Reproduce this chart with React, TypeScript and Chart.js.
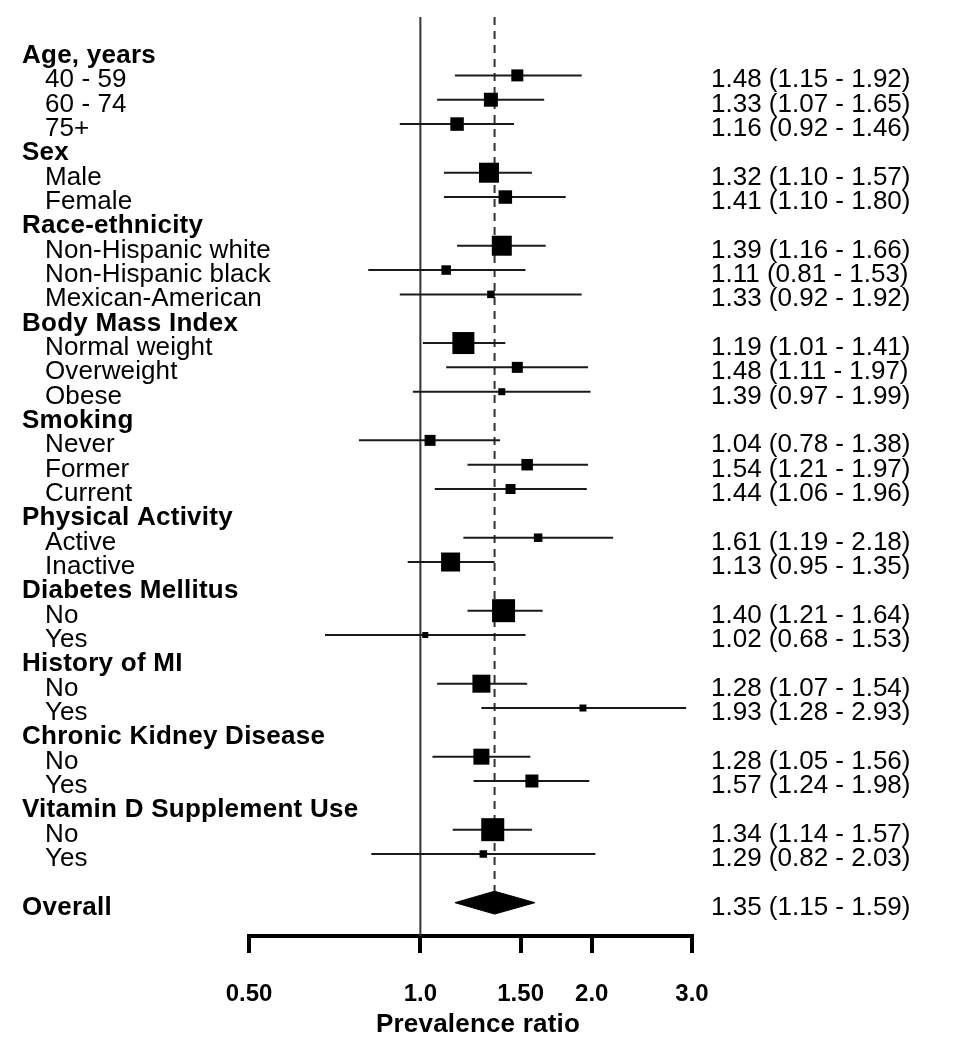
import { useEffect, useRef } from "react";
import { Chart, registerables } from "chart.js";

Chart.register(...registerables);

// ---- Data ----
const rowLabels = [
  "Age, years", "40 - 59", "60 - 74", "75+",
  "Sex", "Male", "Female",
  "Race-ethnicity", "Non-Hispanic white", "Non-Hispanic black", "Mexican-American",
  "Body Mass Index", "Normal weight", "Overweight", "Obese",
  "Smoking", "Never", "Former", "Current",
  "Physical Activity", "Active", "Inactive",
  "Diabetes Mellitus", "No", "Yes",
  "History of MI", "No", "Yes",
  "Chronic Kidney Disease", "No", "Yes",
  "Vitamin D Supplement Use", "No", "Yes",
  "",
  "Overall",
];
// h = group header, i = subgroup, b = blank, o = overall
const rowKinds = [
  "h", "i", "i", "i",
  "h", "i", "i",
  "h", "i", "i", "i",
  "h", "i", "i", "i",
  "h", "i", "i", "i",
  "h", "i", "i",
  "h", "i", "i",
  "h", "i", "i",
  "h", "i", "i",
  "h", "i", "i",
  "b",
  "o",
];
const estimates = [
  null, 1.48, 1.33, 1.16,
  null, 1.32, 1.41,
  null, 1.39, 1.11, 1.33,
  null, 1.19, 1.48, 1.39,
  null, 1.04, 1.54, 1.44,
  null, 1.61, 1.13,
  null, 1.40, 1.02,
  null, 1.28, 1.93,
  null, 1.28, 1.57,
  null, 1.34, 1.29,
  null,
  1.35,
];
const lowerCI = [
  null, 1.15, 1.07, 0.92,
  null, 1.10, 1.10,
  null, 1.16, 0.81, 0.92,
  null, 1.01, 1.11, 0.97,
  null, 0.78, 1.21, 1.06,
  null, 1.19, 0.95,
  null, 1.21, 0.68,
  null, 1.07, 1.28,
  null, 1.05, 1.24,
  null, 1.14, 0.82,
  null,
  1.15,
];
const upperCI = [
  null, 1.92, 1.65, 1.46,
  null, 1.57, 1.80,
  null, 1.66, 1.53, 1.92,
  null, 1.41, 1.97, 1.99,
  null, 1.38, 1.97, 1.96,
  null, 2.18, 1.35,
  null, 1.64, 1.53,
  null, 1.54, 2.93,
  null, 1.56, 1.98,
  null, 1.57, 2.03,
  null,
  1.59,
];
// relative box weight (box side)
const boxWeight = [
  null, 12, 14, 13.5,
  null, 20, 13.5,
  null, 20, 9.5, 7.5,
  null, 22, 11, 7,
  null, 11, 11.5, 10,
  null, 8.5, 19,
  null, 23, 6,
  null, 18, 7,
  null, 16, 13,
  null, 23, 7.5,
  null,
  null,
];
const tickValues = [0.5, 1.0, 1.5, 2.0, 3.0];
const tickLabels = ["0.50", "1.0", "1.50", "2.0", "3.0"];
const nullEffect = 1.0;
const axisTitle = "Prevalence ratio";

const fmt = (v: number) => v.toFixed(2);

const FONT = "'Liberation Sans', Arial, Helvetica, sans-serif";
const Y_MIN = -1.4;
const Y_MAX = 36.37;

export default function App() {
  const ref = useRef<HTMLCanvasElement | null>(null);

  useEffect(() => {
    const canvas = ref.current;
    if (!canvas) return;

    const overallIdx = rowKinds.indexOf("o");
    const datasets: any[] = [];

    // boxes
    const boxData: any[] = [];
    const boxRadii: number[] = [];
    estimates.forEach((e, i) => {
      if (e != null && rowKinds[i] === "i") {
        boxData.push({ x: e, y: i });
        boxRadii.push((boxWeight[i] as number) / Math.SQRT2);
      }
    });
    datasets.push({
      data: boxData,
      pointStyle: "rect",
      pointRadius: boxRadii,
      pointBackgroundColor: "#000",
      pointBorderWidth: 0,
      showLine: false,
      order: 0,
    });

    // whiskers
    estimates.forEach((e, i) => {
      if (e != null && rowKinds[i] === "i") {
        datasets.push({
          data: [
            { x: lowerCI[i], y: i },
            { x: upperCI[i], y: i },
          ],
          showLine: true,
          borderColor: "#1a1a1a",
          borderWidth: 2,
          pointRadius: 0,
          order: 1,
        });
      }
    });

    // overall diamond
    const h = 0.47;
    const oe = estimates[overallIdx] as number;
    const ol = lowerCI[overallIdx] as number;
    const ou = upperCI[overallIdx] as number;
    datasets.push({
      data: [
        { x: ol, y: overallIdx },
        { x: oe, y: overallIdx - h },
        { x: ou, y: overallIdx },
        { x: oe, y: overallIdx + h },
        { x: ol, y: overallIdx },
      ],
      showLine: true,
      fill: "shape",
      backgroundColor: "#000",
      borderColor: "#000",
      borderWidth: 1,
      pointRadius: 0,
      tension: 0,
      order: 0,
    });

    // reference lines
    datasets.push({
      data: [
        { x: nullEffect, y: Y_MIN },
        { x: nullEffect, y: Y_MAX },
      ],
      showLine: true,
      borderColor: "#333",
      borderWidth: 2,
      pointRadius: 0,
      order: 2,
    });
    datasets.push({
      data: [
        { x: oe, y: Y_MIN },
        { x: oe, y: overallIdx },
      ],
      showLine: true,
      borderColor: "#333",
      borderWidth: 2,
      borderDash: [8, 6],
      pointRadius: 0,
      order: 2,
    });

    const textPlugin = {
      id: "forestText",
      afterDraw(chart: any) {
        const ctx = chart.ctx;
        const ys = chart.scales.y;
        ctx.save();
        ctx.fillStyle = "#000";
        ctx.textBaseline = "alphabetic";
        rowLabels.forEach((lab, i) => {
          const py = ys.getPixelForValue(i) + 12;
          const kind = rowKinds[i];
          if (kind === "h" || kind === "o") {
            ctx.font = `bold 26px ${FONT}`;
            ctx.textAlign = "left";
            (ctx as any).letterSpacing = "0.25px";
            ctx.fillText(lab, 22, py);
            (ctx as any).letterSpacing = "0px";
          } else if (kind === "i") {
            ctx.font = `26px ${FONT}`;
            ctx.textAlign = "left";
            (ctx as any).letterSpacing = "0.1px";
            ctx.fillText(lab, 45, py);
            (ctx as any).letterSpacing = "0px";
          }
          const e = estimates[i];
          if (e != null) {
            ctx.font = `26px ${FONT}`;
            ctx.textAlign = "left";
            ctx.fillText(
              `${fmt(e)} (${fmt(lowerCI[i] as number)} - ${fmt(upperCI[i] as number)})`,
              711,
              py
            );
          }
        });
        ctx.font = `bold 26px ${FONT}`;
        ctx.textAlign = "center";
        (ctx as any).letterSpacing = "0.2px";
        ctx.fillText(axisTitle, 478, 1032);
        ctx.restore();
      },
    };

    const chart = new Chart(canvas, {
      type: "scatter",
      data: { datasets },
      options: {
        animation: false,
        responsive: false,
        devicePixelRatio: 1,
        layout: { padding: { left: 249, right: 274, top: 17, bottom: 0 } },
        plugins: {
          legend: { display: false },
          tooltip: { enabled: false },
        },
        scales: {
          x: {
            type: "logarithmic",
            position: "bottom",
            min: 0.5,
            max: 3.0,
            afterBuildTicks: (s: any) => {
              s.ticks = tickValues.map((v) => ({ value: v }));
            },
            afterFit: (s: any) => {
              s.height = 1050 - 936;
            },
            ticks: {
              autoSkip: false,
              maxRotation: 0,
              padding: 27,
              color: "#000",
              font: { family: FONT, size: 24, weight: "bold" },
              callback: (_v: any, i: number) => tickLabels[i],
            },
            grid: {
              drawOnChartArea: false,
              drawTicks: true,
              tickLength: 17,
              tickWidth: 4,
              tickColor: "#000",
              color: "#000",
              lineWidth: 4,
            },
            border: { display: true, color: "#000", width: 4 },
          },
          y: {
            type: "linear",
            display: false,
            reverse: true,
            min: Y_MIN,
            max: Y_MAX,
          },
        },
      } as any,
      plugins: [textPlugin],
    });

    return () => chart.destroy();
  }, []);

  return (
    <div style={{ position: "absolute", left: 0, top: 0, width: 966, height: 1050, background: "#fff" }}>
      <canvas ref={ref} width={966} height={1050} style={{ display: "block", width: 966, height: 1050 }} />
    </div>
  );
}
